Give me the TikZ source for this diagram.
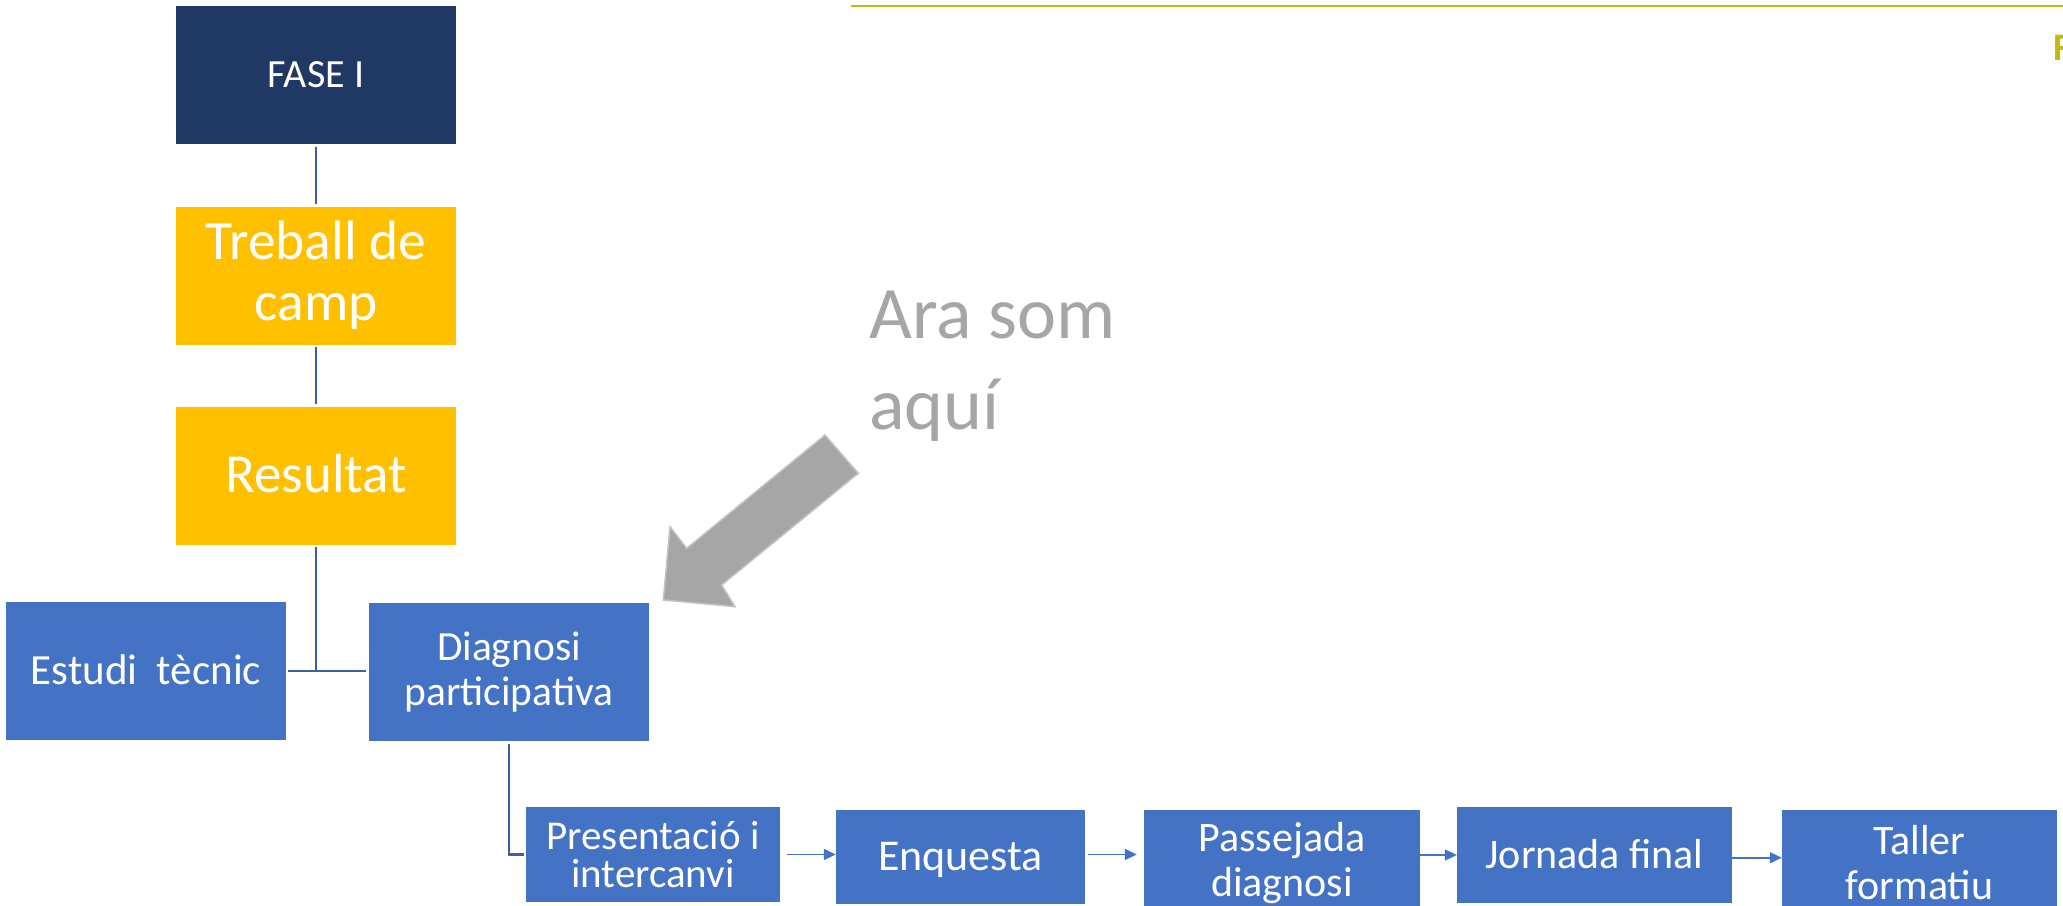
\documentclass[tikz,border=0pt]{standalone}
\usepackage{fontspec}
\setmainfont{Carlito}
\usetikzlibrary{arrows.meta}
\definecolor{navy}{HTML}{203864}
\definecolor{gold}{HTML}{FFC000}
\definecolor{bblue}{HTML}{4472C4}
\definecolor{lineblue}{HTML}{3A5FA8}
\definecolor{olive}{HTML}{C5B716}
\definecolor{agray}{HTML}{A6A6A6}
\definecolor{agrayedge}{HTML}{C4C4C4}
\begin{document}
\begin{tikzpicture}[x=1pt,y=-1pt,
  box/.style={rectangle, inner sep=0pt, text=white, align=center, draw=none},
  bigbox/.style={box, minimum width=280pt, minimum height=138pt},
  one/.style={text height=#1, text depth=0pt},
  navybox/.style={bigbox, fill=navy},
  goldbox/.style={bigbox, fill=gold},
  bluebox/.style={bigbox, fill=bblue},
  smallbox/.style={box, fill=bblue},
  link/.style={draw=lineblue, line width=2.5pt},
  flow/.style={draw=bblue, line width=1.6pt, -{Triangle[length=12pt,width=11pt]}}
]
\useasboundingbox (0,0) rectangle (2063,905);
\clip (0,0) rectangle (2063,905);

% header rule and cut letter
\draw[olive, line width=2.4pt] (851,5.7) -- (2063,5.7);
\node[anchor=base west, inner sep=0pt, text=olive, font=\bfseries\fontsize{39}{39}\selectfont] (fletter) at (2053,60) {F};

% column
\node[navybox, one=25.3pt, font=\fontsize{40}{40}\selectfont] (fase) at (316,75) {FASE I};
\node[goldbox, font=\fontsize{55.5}{60.7}\selectfont] (treball) at (316,275.5) {Treball de\\camp};
\node[goldbox, one=34.8pt, font=\fontsize{55}{55}\selectfont] (result) at (316,475.5) {Resultat};
\node[bluebox, one=26.5pt, font=\fontsize{43}{43}\selectfont] (estudi) at (146,671) {Estudi\ \ tècnic};
\node[bluebox, font=\fontsize{41.5}{45.7}\selectfont] (diag) at (509,672) {Diagnosi\\participativa};

% bottom row
\node[smallbox, minimum width=254pt, minimum height=95pt, font=\fontsize{41}{38.3}\selectfont] (pres) at (653,854.5) {Presentació i\\intercanvi};
\node[smallbox, one=27.5pt, minimum width=249pt, minimum height=94pt, font=\fontsize{44}{44}\selectfont] (enq) at (960.5,857) {Enquesta};
\node[smallbox, minimum width=276pt, minimum height=107pt, font=\fontsize{42}{45}\selectfont] (pass) at (1282,863) {Passejada\\diagnosi};
\node[smallbox, one=26.5pt, minimum width=275pt, minimum height=96pt, font=\fontsize{42}{42}\selectfont] (jorn) at (1594.5,855) {Jornada final};
\node[smallbox, minimum width=275pt, minimum height=107pt, font=\fontsize{42}{45}\selectfont] (taller) at (1919.5,863) {Taller\\formatiu};

% connectors
\draw[link, shorten <=2.5pt, shorten >=2.5pt] (fase.south) -- (treball.north);
\draw[link, shorten <=2.5pt, shorten >=2.5pt] (treball.south) -- (result.north);
\draw[link, shorten <=2.5pt] (result.south) -- (result.south |- estudi.east);
\draw[link, shorten <=2pt, shorten >=3pt] (estudi.east) -- (diag.west |- estudi.east);
\draw[link, shorten <=2.5pt, shorten >=1.5pt] (diag.south) |- (pres.west);

\draw[flow, shorten <=7pt] (pres.east) -- (pres.east -| enq.west);
\draw[flow, shorten <=3pt, shorten >=7pt] (enq.east |- pres.east) -- (enq.east |- pres.east -| pass.west);
\draw[flow] (pass.east |- jorn.west) -- (jorn.west);
\draw[flow] (jorn.east |- 0,857.7) -- (taller.west |- 0,857.7);

% annotation
\node[anchor=west, inner sep=0pt, align=left, text=agray, font=\fontsize{74}{91}\selectfont] (ara) at (869,366.7) {Ara som\\aquí};
\fill[agray, draw=agrayedge, line width=1.5pt] (825,435) -- (858.3,473.3) -- (721.7,585) -- (735,606.7) -- (663.3,600) -- (670,526.7) -- (686.7,548.3) -- cycle;
\end{tikzpicture}
\end{document}
